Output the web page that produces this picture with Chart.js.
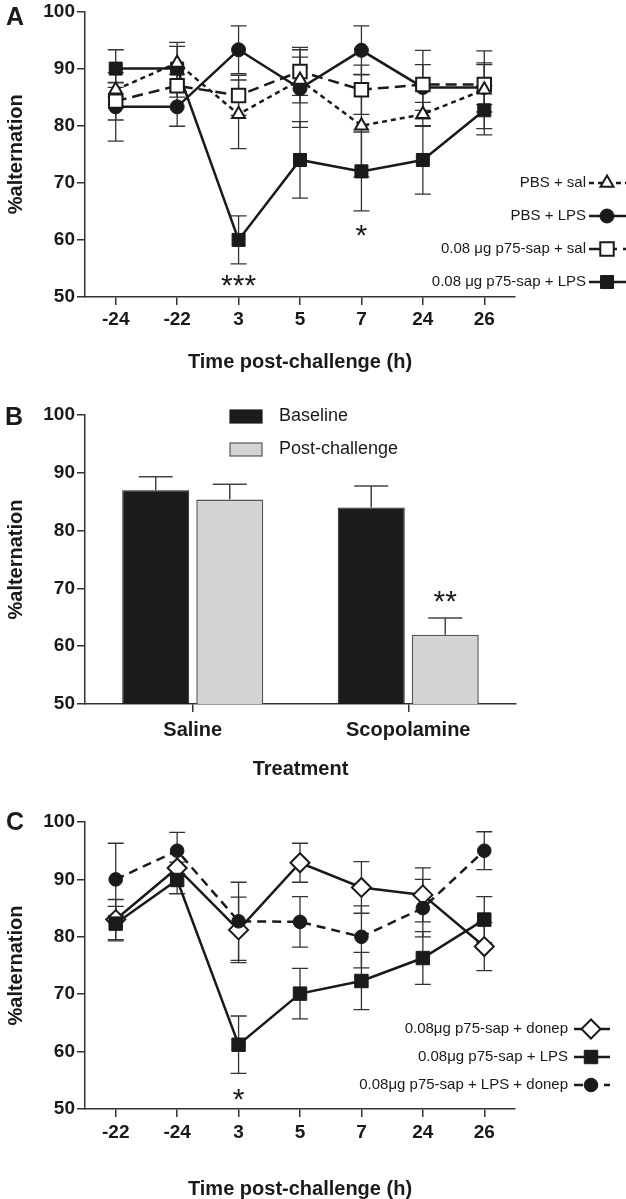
<!DOCTYPE html>
<html>
<head>
<meta charset="utf-8">
<script src="https://cdn.jsdelivr.net/npm/chart.js@4/dist/chart.umd.min.js"></script>
<style>
html, body { margin: 0; padding: 0; background: #fff; }
#wrap { position: relative; width: 626px; height: 1199px; overflow: hidden; }
canvas { position: absolute; left: 0; }
</style>
</head>
<body>
<div id="wrap">
  <canvas id="chartA" width="626" height="395" style="top:0px"></canvas>
  <canvas id="chartB" width="626" height="395" style="top:395px"></canvas>
  <canvas id="chartC" width="626" height="409" style="top:790px"></canvas>
</div>
<script>
// shared y ticks
var yTicks = [50, 60, 70, 80, 90, 100];

// panel A : time course, 4 groups
var hoursA = ['-24', '-22', '3', '5', '7', '24', '26'];
var pbsSal = [86.3, 91, 82, 88, 80, 82, 86.3];
var pbsSalErr = [1.2, 3.6, 6, 4, 9, 2.1, 6.8];
var pbsLps = [83.3, 83.3, 93.3, 86.5, 93.2, 86.7, 86.7];
var pbsLpsErr = [6, 3.4, 4.2, 6.8, 4.3, 4, 4.3];
var sapSal = [84.3, 87, 85.3, 89.5, 86.3, 87.2, 87.2];
var sapSalErr = [3.3, 2, 3.5, 4.2, 4.3, 6, 3.5];
var sapLps = [90, 90, 60, 74, 72, 74, 82.7];
var sapLpsErr = [3.3, 3.9, 4.2, 6.7, 6.9, 6, 4.3];
var starsA = ['***', '*'];
var starsAAt = ['3', '7'];
var starsAY = [53.3, 62.1];

// panel B : scopolamine bars
var treatments = ['Saline', 'Scopolamine'];
var baseline = [87, 84];
var baselineErr = [2.3, 3.7];
var postChallenge = [85.4, 62];
var postChallengeErr = [2.6, 2.9];
var starsBY = [69];

// panel C : donepezil time course
var hoursC = ['-22', '-24', '3', '5', '7', '24', '26'];
var donep = [83, 92, 81.2, 92.9, 88.6, 87.3, 78.3];
var donepErr = [3.5, 1, 5.7, 3.4, 4.5, 4.7, 4.2];
var lps = [82.3, 89.9, 61.2, 70.1, 72.3, 76.3, 83];
var lpsErr = [3, 2.4, 5, 4.4, 5, 4.6, 4];
var lpsDonep = [90, 95, 82.7, 82.6, 80, 85, 95];
var lpsDonepErr = [6.3, 3.2, 6.8, 4.4, 5.4, 5, 3.3];
var starsCAt = ['3'];
var starsCY = [53];

var FONT = "'Liberation Sans', Arial, Helvetica, sans-serif";
var INK = '#1a1a1a';
Chart.defaults.font.family = FONT;
Chart.defaults.color = INK;

function drawErrors(chart, opts) {
  var ctx = chart.ctx, y = chart.scales.y;
  ctx.save();
  ctx.strokeStyle = opts.color || '#333';
  ctx.lineWidth = opts.width || 1.3;
  ctx.setLineDash([]);
  chart.data.datasets.forEach(function (ds, i) {
    if (!ds.errors) return;
    var meta = chart.getDatasetMeta(i);
    meta.data.forEach(function (el, j) {
      var v = ds.data[j], e = ds.errors[j];
      var top = y.getPixelForValue(v + e);
      var bot = y.getPixelForValue(opts.upOnly ? v : v - e);
      var x = el.x;
      ctx.beginPath();
      ctx.moveTo(x, bot);
      ctx.lineTo(x, top);
      ctx.moveTo(x - opts.cap, top);
      ctx.lineTo(x + opts.cap, top);
      if (!opts.upOnly) {
        ctx.moveTo(x - opts.cap, bot);
        ctx.lineTo(x + opts.cap, bot);
      }
      ctx.stroke();
    });
  });
  ctx.restore();
}

var errorBars = {
  id: 'errorBars',
  beforeDatasetsDraw: function (chart, args, opts) {
    if (!opts.upOnly) drawErrors(chart, opts);
  },
  afterDatasetsDraw: function (chart, args, opts) {
    if (opts.upOnly) drawErrors(chart, opts);
  }
};

// legend drawn by hand: text, then line + marker (or a box for bars)
var sideLegend = {
  id: 'sideLegend',
  afterDraw: function (chart, args, opts) {
    if (!opts.items) return;
    var ctx = chart.ctx;
    ctx.save();
    ctx.font = opts.font;
    ctx.textBaseline = 'middle';
    opts.items.forEach(function (idx, k) {
      var ds = chart.data.datasets[idx];
      var yy = opts.y + k * opts.step;
      ctx.fillStyle = INK;
      if (opts.boxes) {
        ctx.textAlign = 'left';
        ctx.fillText(ds.label, opts.textX, yy);
        ctx.fillStyle = ds.backgroundColor;
        ctx.fillRect(opts.boxX, yy - 6.5, 32, 13);
        ctx.strokeStyle = ds.borderColor;
        ctx.lineWidth = 1.2;
        ctx.strokeRect(opts.boxX, yy - 6.5, 32, 13);
        return;
      }
      ctx.textAlign = 'right';
      ctx.fillText(ds.label, opts.textX, yy);
      ctx.strokeStyle = INK;
      ctx.lineWidth = ds.borderWidth;
      ctx.setLineDash(ds.borderDash || []);
      ctx.beginPath();
      ctx.moveTo(opts.lineFrom, yy);
      ctx.lineTo(opts.lineTo, yy);
      ctx.stroke();
      ctx.setLineDash([]);
      ctx.fillStyle = ds.pointBackgroundColor;
      ctx.strokeStyle = ds.pointBorderColor;
      ctx.lineWidth = ds.pointBorderWidth;
      Chart.helpers.drawPoint(ctx, {
        pointStyle: ds.pointStyle, radius: ds.pointRadius,
        borderWidth: ds.pointBorderWidth, rotation: 0
      }, opts.marker, yy);
    });
    ctx.restore();
  }
};

// panel letter + significance stars
var marks = {
  id: 'marks',
  afterDraw: function (chart, args, opts) {
    var ctx = chart.ctx;
    ctx.save();
    ctx.fillStyle = INK;
    ctx.textAlign = 'left';
    ctx.textBaseline = 'alphabetic';
    ctx.font = 'bold 25px ' + FONT;
    ctx.fillText(opts.letter, opts.letterX, opts.letterY);
    ctx.font = '30px ' + FONT;
    ctx.textAlign = 'center';
    (opts.stars || []).forEach(function (s) {
      var x = s.meta ? chart.getDatasetMeta(s.meta[0]).data[s.meta[1]].x
                     : chart.scales.x.getPixelForValue(chart.data.labels.indexOf(s.at));
      var y = chart.scales.y.getPixelForValue(s.y);
      ctx.fillText(s.text, x, y + 17);
    });
    ctx.restore();
  }
};

function yAxis() {
  return {
    min: 50, max: 100,
    afterBuildTicks: function (s) { s.ticks = yTicks.map(function (v) { return { value: v }; }); },
    afterFit: function (s) { s.width = 85; },
    border: { color: '#333', width: 1.5 },
    grid: { drawOnChartArea: false, tickLength: 8, color: '#333', lineWidth: 1.5 },
    ticks: { font: { size: 19, weight: 'bold', lineHeight: 0.8 }, color: INK, padding: 2 },
    title: { display: true, text: '%alternation', color: INK,
      font: { size: 20, weight: 'bold', lineHeight: 1 }, padding: { top: 6, bottom: 0 } }
  };
}

function xAxis(height, title, titlePad, tickPad, tickSize) {
  return {
    offset: true,
    afterFit: function (s) { s.height = height; },
    border: { color: '#333', width: 1.5 },
    grid: { drawOnChartArea: false, offset: false, tickLength: 8, color: '#333', lineWidth: 1.5 },
    ticks: { font: { size: tickSize, weight: 'bold' }, color: INK, padding: tickPad,
      maxRotation: 0, autoSkip: false },
    title: { display: true, text: title, color: INK,
      font: { size: 20, weight: 'bold', lineHeight: 1 }, padding: { top: 0, bottom: titlePad } }
  };
}

function lineSet(label, data, errors, order, style, radius, filled, dash) {
  return {
    label: label, data: data, errors: errors, order: order,
    borderColor: INK, borderWidth: 2.5, borderDash: dash,
    pointStyle: style, pointRadius: radius,
    pointBackgroundColor: filled ? INK : '#fff', pointBorderColor: INK,
    pointBorderWidth: filled ? 1 : 2, tension: 0, fill: false
  };
}

new Chart(document.getElementById('chartA'), {
  type: 'line',
  data: {
    labels: hoursA,
    datasets: [
      lineSet('PBS + sal', pbsSal, pbsSalErr, 0, 'triangle', 7.5, false, [5, 4]),
      lineSet('PBS + LPS', pbsLps, pbsLpsErr, 2, 'circle', 7, true, []),
      lineSet('0.08 \u03bcg p75-sap + sal', sapSal, sapSalErr, 1, 'rect', 9.5, false, [11, 6]),
      lineSet('0.08 \u03bcg p75-sap + LPS', sapLps, sapLpsErr, 3, 'rect', 9.2, true, [])
    ]
  },
  options: {
    responsive: false, animation: false, devicePixelRatio: 1, events: [],
    layout: { padding: { top: 8, right: 111, bottom: 0, left: 0 } },
    scales: { x: xAxis(98, 'Time post-challenge (h)', 23, 3, 19), y: yAxis() },
    plugins: {
      legend: { display: false }, tooltip: { enabled: false },
      errorBars: { cap: 8, color: '#333', width: 1.3 },
      sideLegend: { items: [0, 1, 2, 3], font: '15px ' + FONT, textX: 586, y: 183, step: 33,
        lineFrom: 589, lineTo: 626, marker: 607 },
      marks: { letter: 'A', letterX: 6, letterY: 25,
        stars: starsA.map(function (t, i) { return { text: t, at: starsAAt[i], y: starsAY[i] }; }) }
    }
  },
  plugins: [errorBars, sideLegend, marks]
});

new Chart(document.getElementById('chartB'), {
  type: 'bar',
  data: {
    labels: treatments,
    datasets: [
      { label: 'Baseline', data: baseline, errors: baselineErr,
        backgroundColor: '#1c1c1c', borderColor: '#1c1c1c', borderWidth: 1,
        categoryPercentage: 0.687, barPercentage: 0.905 },
      { label: 'Post-challenge', data: postChallenge, errors: postChallengeErr,
        backgroundColor: '#d4d4d4', borderColor: '#555', borderWidth: 1.5,
        categoryPercentage: 0.687, barPercentage: 0.905 }
    ]
  },
  options: {
    responsive: false, animation: false, devicePixelRatio: 1, events: [],
    layout: { padding: { top: 20, right: 110, bottom: 0, left: 0 } },
    scales: { x: xAxis(86, 'Treatment', 11, 6, 20), y: yAxis() },
    plugins: {
      legend: { display: false }, tooltip: { enabled: false },
      errorBars: { cap: 17, color: '#444', width: 1.5, upOnly: true },
      sideLegend: { boxes: true, items: [0, 1], font: '18px ' + FONT, textX: 279, boxX: 230,
        y: 21.5, step: 33 },
      marks: { letter: 'B', letterX: 5, letterY: 30,
        stars: [{ text: '**', meta: [1, 1], y: starsBY[0] }] }
    }
  },
  plugins: [errorBars, sideLegend, marks]
});

new Chart(document.getElementById('chartC'), {
  type: 'line',
  data: {
    labels: hoursC,
    datasets: [
      lineSet('0.08\u03bcg p75-sap + donep', donep, donepErr, 2, 'rectRot', 9.5, false, []),
      lineSet('0.08\u03bcg p75-sap + LPS', lps, lpsErr, 1, 'rect', 9.5, true, []),
      lineSet('0.08\u03bcg p75-sap + LPS + donep', lpsDonep, lpsDonepErr, 0, 'circle', 6.8, true, [9, 6])
    ]
  },
  options: {
    responsive: false, animation: false, devicePixelRatio: 1, events: [],
    layout: { padding: { top: 32, right: 111, bottom: 0, left: 0 } },
    scales: { x: xAxis(90, 'Time post-challenge (h)', 0, 4, 19), y: yAxis() },
    plugins: {
      legend: { display: false }, tooltip: { enabled: false },
      errorBars: { cap: 8, color: '#333', width: 1.3 },
      sideLegend: { items: [0, 1, 2], font: '15px ' + FONT, textX: 568, y: 239, step: 28,
        lineFrom: 574, lineTo: 610, marker: 591 },
      marks: { letter: 'C', letterX: 6, letterY: 40,
        stars: [{ text: '*', at: starsCAt[0], y: starsCY[0] }] }
    }
  },
  plugins: [errorBars, sideLegend, marks]
});
</script>
</body>
</html>
